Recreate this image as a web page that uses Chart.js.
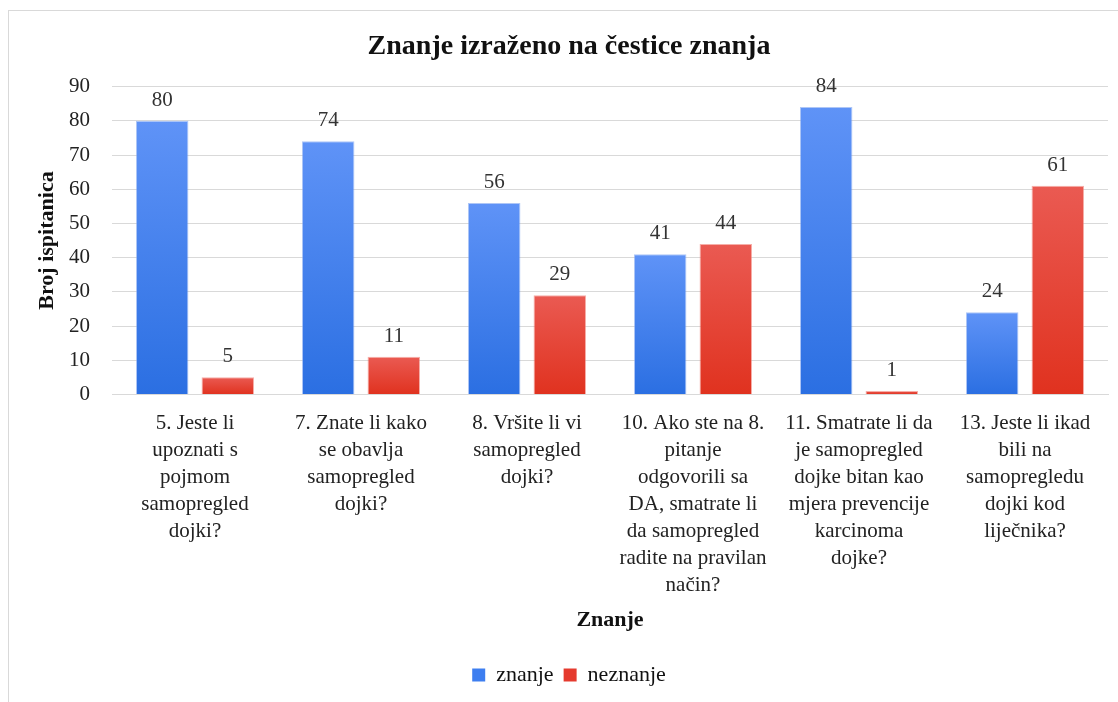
<!DOCTYPE html>
<html lang="hr">
<head>
    <meta charset="UTF-8">
    <title>Znanje izraženo na čestice znanja</title>
    <script src="https://cdn.jsdelivr.net/npm/chart.js"></script>
    <style>
        body { margin: 0; background: #fff; }
        #frame { position: absolute; left: 8px; top: 10px; width: 1120px; height: 700px; border: 1px solid #d9d9d9; box-sizing: border-box; }
        #wrap { position: absolute; left: 0; top: 0; width: 1118px; height: 702px; }
    </style>
</head>
<body>
    <div id="frame"></div>
    <div id="wrap"><canvas id="dataChart"></canvas></div>

    <script>
        const categories = [
            ['5. Jeste li', 'upoznati s', 'pojmom', 'samopregled', 'dojki?'],
            ['7. Znate li kako', 'se obavlja', 'samopregled', 'dojki?'],
            ['8. Vršite li vi', 'samopregled', 'dojki?'],
            ['10. Ako ste na 8.', 'pitanje', 'odgovorili sa', 'DA, smatrate li', 'da samopregled', 'radite na pravilan', 'način?'],
            ['11. Smatrate li da', 'je samopregled', 'dojke bitan kao', 'mjera prevencije', 'karcinoma', 'dojke?'],
            ['13. Jeste li ikad', 'bili na', 'samopregledu', 'dojki kod', 'liječnika?']
        ];
        const znanje = [80, 74, 56, 41, 84, 24];
        const neznanje = [5, 11, 29, 44, 1, 61];

        const serif = "'Liberation Serif', 'Times New Roman', serif";

        // gradient per bar, light at top, darker at the base
        function barGradient(top, bottom) {
            return function (ctx) {
                const chart = ctx.chart;
                if (!chart.chartArea || ctx.raw === undefined) return bottom;
                const y = chart.scales.y;
                const y0 = y.getPixelForValue(ctx.raw);
                const y1 = y.getPixelForValue(0);
                if (!isFinite(y0) || !isFinite(y1) || y0 === y1) return bottom;
                const g = chart.ctx.createLinearGradient(0, y0, 0, y1);
                g.addColorStop(0, top);
                g.addColorStop(1, bottom);
                return g;
            };
        }

        const valueLabels = {
            id: 'valueLabels',
            afterDatasetsDraw(chart) {
                const c = chart.ctx;
                c.save();
                c.font = '21px ' + serif;
                c.fillStyle = '#333';
                c.textAlign = 'center';
                c.textBaseline = 'bottom';
                chart.data.datasets.forEach((ds, i) => {
                    chart.getDatasetMeta(i).data.forEach((bar, j) => {
                        c.fillText(ds.data[j], bar.x, bar.y - 10);
                    });
                });
                c.restore();
            }
        };

        new Chart(document.getElementById('dataChart'), {
            type: 'bar',
            data: {
                labels: categories,
                datasets: [
                    {
                        label: 'znanje',
                        data: znanje,
                        backgroundColor: barGradient('#5f93f7', '#2b6fe2'),
                        borderColor: 'rgba(120,160,240,0.6)',
                        borderWidth: 1,
                        categoryPercentage: 0.79,
                        barPercentage: 0.8
                    },
                    {
                        label: 'neznanje',
                        data: neznanje,
                        backgroundColor: barGradient('#ea5a52', '#e0321f'),
                        borderColor: 'rgba(240,120,110,0.6)',
                        borderWidth: 1,
                        categoryPercentage: 0.79,
                        barPercentage: 0.8
                    }
                ]
            },
            options: {
                responsive: true,
                maintainAspectRatio: false,
                animation: false,
                layout: { padding: { left: 30, right: 10, top: 0, bottom: 6 } },
                scales: {
                    x: {
                        grid: { display: false },
                        border: { color: '#d9d9d9' },
                        ticks: {
                            autoSkip: false,
                            maxRotation: 0,
                            padding: 8,
                            color: '#222',
                            font: { family: serif, size: 21, lineHeight: 1.28 }
                        },
                        title: {
                            display: true,
                            text: 'Znanje',
                            color: '#111',
                            font: { family: serif, size: 22, weight: 'bold' },
                            padding: { top: 1, bottom: 20 }
                        }
                    },
                    y: {
                        min: 0,
                        max: 90,
                        afterFit(scale) { scale.width = 82; },
                        ticks: {
                            stepSize: 10,
                            color: '#222',
                            padding: 22,
                            font: { family: serif, size: 21 }
                        },
                        grid: { color: '#d9d9d9', drawTicks: false },
                        border: { display: false },
                        title: {
                            display: true,
                            text: 'Broj ispitanica',
                            color: '#111',
                            font: { family: serif, size: 22, weight: 'bold' },
                            padding: { top: 4, bottom: 8 }
                        }
                    }
                },
                plugins: {
                    title: {
                        display: true,
                        text: 'Znanje izraženo na čestice znanja',
                        color: '#111',
                        font: { family: serif, size: 28, weight: 'bold' },
                        padding: { top: 30, bottom: 23 }
                    },
                    legend: {
                        position: 'bottom',
                        labels: {
                            color: '#111',
                            boxWidth: 13,
                            boxHeight: 13,
                            padding: 10,
                            font: { family: serif, size: 22 },
                            generateLabels(chart) {
                                const fills = ['#3d7ef0', '#e53a2e'];
                                return chart.data.datasets.map((ds, i) => ({
                                    text: ds.label,
                                    fillStyle: fills[i],
                                    strokeStyle: fills[i],
                                    lineWidth: 0,
                                    datasetIndex: i,
                                    fontColor: '#111'
                                }));
                            }
                        }
                    },
                    tooltip: { enabled: false }
                }
            },
            plugins: [valueLabels]
        });
    </script>
</body>
</html>
